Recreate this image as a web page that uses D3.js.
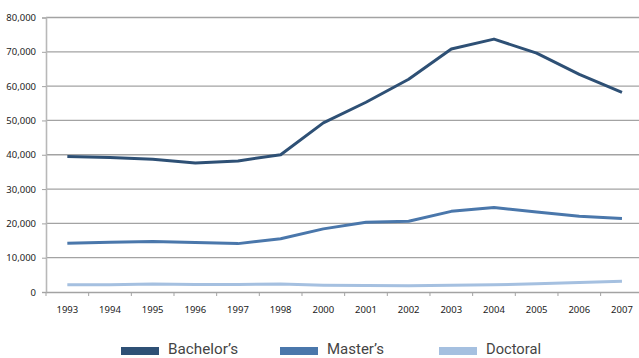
<!DOCTYPE html>
<html>
<head>
<meta charset="utf-8">
<script src="https://cdn.jsdelivr.net/npm/d3@7"></script>
<style>
  body { margin: 0; background: #fff; }
  svg { display: block; }
</style>
</head>
<body>
<svg id="chart" width="639" height="358"></svg>
<script>
var years = ["1993", "1994", "1995", "1996", "1997", "1998", "2000", "2001", "2002", "2003", "2004", "2005", "2006", "2007"];
var bachelors = [39500, 39200, 38700, 37600, 38200, 40000, 49300, 55300, 62000, 70800, 73700, 69600, 63400, 58200];
var masters = [14200, 14500, 14700, 14400, 14100, 15500, 18400, 20300, 20600, 23500, 24600, 23300, 22100, 21400];
var doctoral = [2100, 2100, 2300, 2200, 2200, 2300, 2000, 1900, 1800, 2000, 2100, 2400, 2800, 3100];
var yTicks = [0, 10000, 20000, 30000, 40000, 50000, 60000, 70000, 80000];

var seriesNames = ["Bachelor\u2019s", "Master\u2019s", "Doctoral"];
var seriesColors = ["#2e5075", "#4a77ab", "#a5c0e0"];
var seriesValues = [bachelors, masters, doctoral];

document.addEventListener('DOMContentLoaded', function () {
    drawChart();
});

function drawChart() {
    var svg = d3.select('#chart');

    let xScale = d3.scaleBand().domain(years).range([46, 643.3]);
    let yScale = d3.scaleLinear().domain([0, 80000]).range([292, 17.5]);

    // gridlines
    svg.append('g')
        .selectAll('line')
        .data(yTicks.slice(1))
        .enter()
        .append('line')
        .attr('x1', 46)
        .attr('x2', 640)
        .attr('y1', d => yScale(d))
        .attr('y2', d => yScale(d))
        .attr('stroke', '#a3a3a3')
        .attr('stroke-width', 1.3);

    // y axis
    let axisLeft = d3.axisLeft(yScale).tickValues(yTicks).tickSize(4).tickPadding(6)
        .tickFormat(d3.format(','));
    var gy = svg.append('g').attr('transform', 'translate(46,0)').call(axisLeft);
    gy.select('.domain').attr('stroke', '#b8b8b8').attr('stroke-width', 1.6);
    gy.selectAll('.tick line').attr('stroke', '#a3a3a3');
    gy.selectAll('text')
        .attr('font-family', 'Noto Sans, sans-serif')
        .attr('font-size', '9.5px')
        .attr('fill', '#222');

    // x axis
    let axisBottom = d3.axisBottom(xScale).tickSize(0).tickPadding(14);
    var gx = svg.append('g').attr('transform', 'translate(0,292)').call(axisBottom);
    gx.select('.domain').attr('stroke', '#a3a3a3').attr('stroke-width', 1.3);
    gx.selectAll('text')
        .attr('font-family', 'Noto Sans, sans-serif')
        .attr('font-size', '9.5px')
        .attr('fill', '#222');
    // tick marks between categories
    gx.append('g')
        .selectAll('line')
        .data(years)
        .enter()
        .append('line')
        .attr('x1', d => xScale(d))
        .attr('x2', d => xScale(d))
        .attr('y1', 0)
        .attr('y2', 4)
        .attr('stroke', '#a3a3a3');

    // lines
    var line = d3.line()
        .x((d, i) => xScale(years[i]) + xScale.bandwidth() / 2)
        .y(d => yScale(d));

    svg.append('g')
        .selectAll('path')
        .data(seriesValues.slice().reverse())
        .enter()
        .append('path')
        .attr('d', d => line(d))
        .attr('fill', 'none')
        .attr('stroke', (d, i) => seriesColors[2 - i])
        .attr('stroke-width', 3)
        .attr('stroke-linejoin', 'round');

    // legend
    var legendX = [121, 280, 439];
    var legendW = [70, 57, 55];
    var legend = svg.append('g')
        .selectAll('g')
        .data(seriesNames)
        .enter()
        .append('g')
        .attr('transform', (d, i) => 'translate(' + legendX[i] + ', 347)');
    legend.append('rect')
        .attr('width', 38)
        .attr('height', 8)
        .attr('fill', (d, i) => seriesColors[i]);
    legend.append('text')
        .attr('x', 47)
        .attr('y', 7)
        .attr('font-family', 'Roboto, sans-serif')
        .attr('font-size', '14px')
        .attr('textLength', (d, i) => legendW[i])
        .attr('lengthAdjust', 'spacingAndGlyphs')
        .attr('fill', '#444')
        .text(d => d);
}
</script>
</body>
</html>
